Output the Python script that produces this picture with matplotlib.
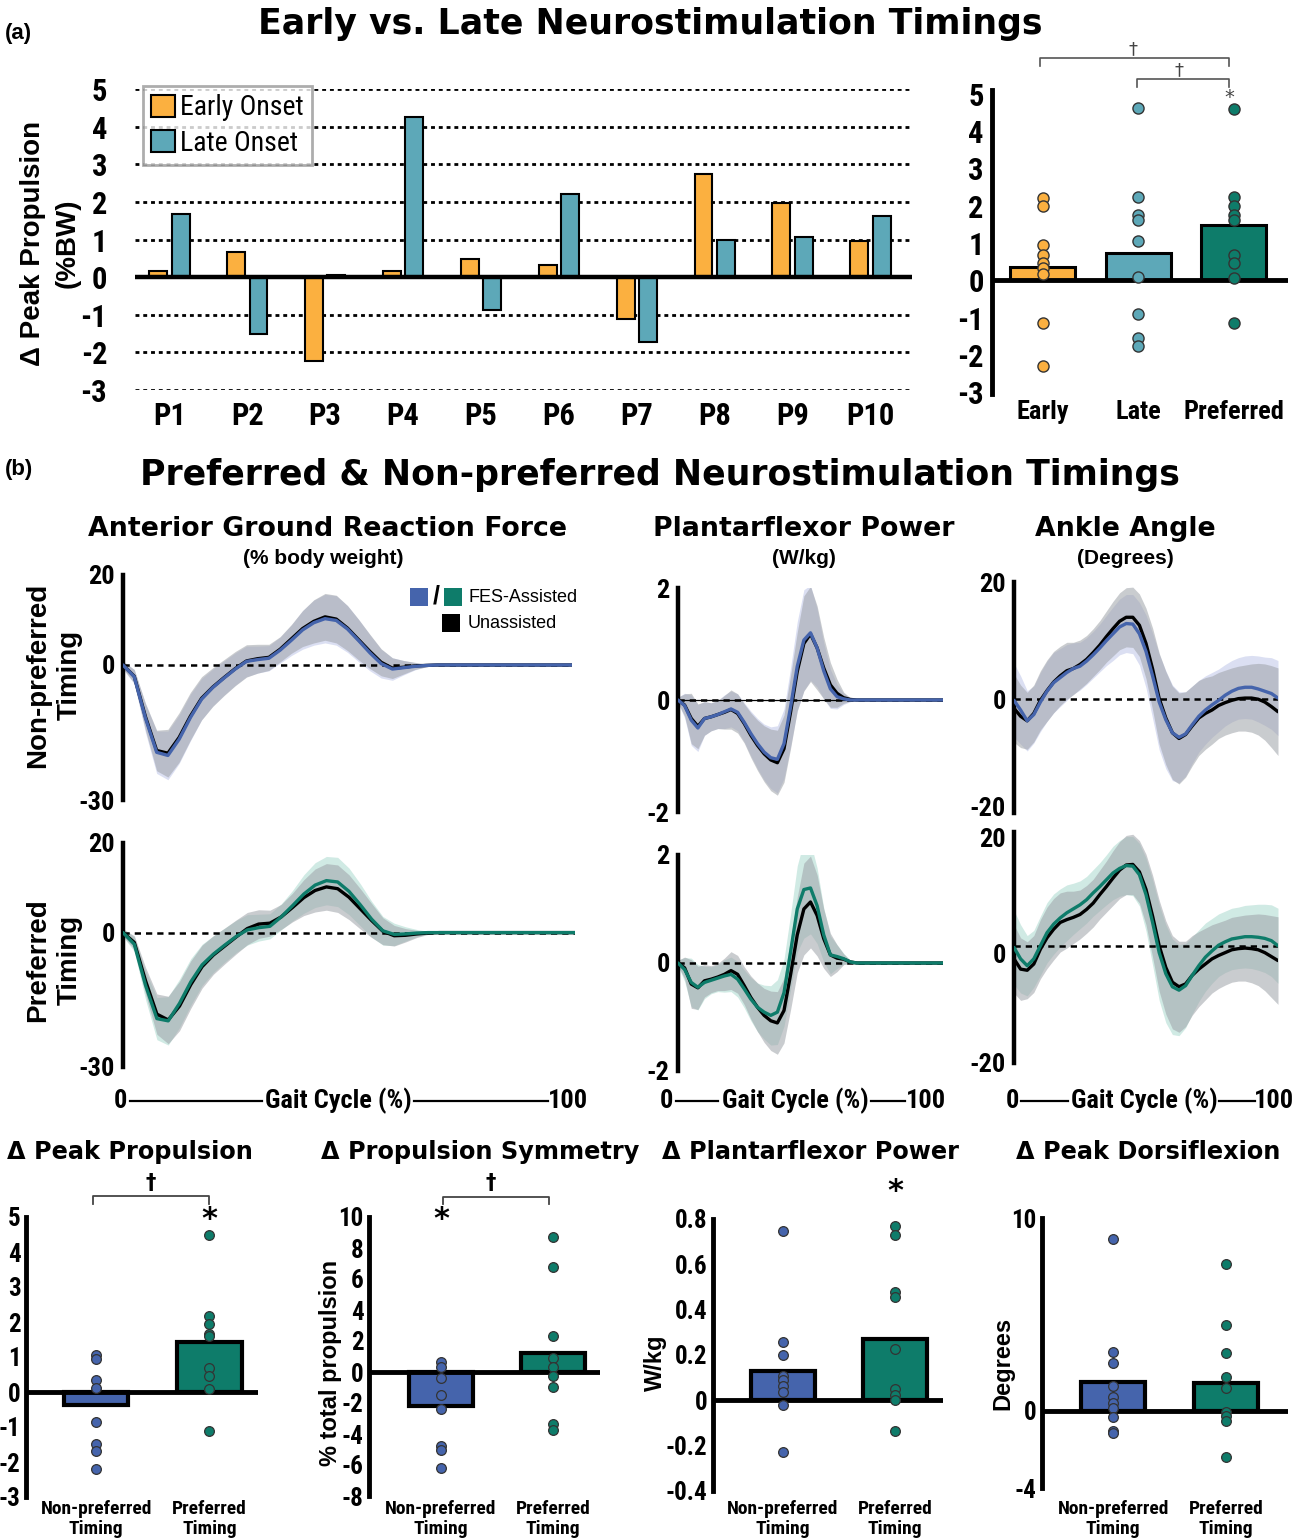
import os
import numpy as np
import matplotlib
matplotlib.use("Agg")
import matplotlib.pyplot as plt
import matplotlib.font_manager as fm
from matplotlib.font_manager import FontProperties
from matplotlib.patches import Rectangle
from matplotlib.lines import Line2D

plt.rcParams["axes.unicode_minus"] = False

W, H = 1303, 1539
SANS = "Liberation Sans"
HEAVY = "DejaVu Sans"


def _find_narrow(bold):
    best = None
    for f in fm.fontManager.ttflist:
        fn = os.path.basename(f.fname).lower()
        if not ("narrow" in fn or "condensed" in fn):
            continue
        if any(x in fn for x in ["italic", "oblique", "light", "thin", "medium", "black", "semi", "extra",
                                 "demi", "ultra"]):
            continue
        if bold != ("bold" in fn):
            continue
        rank = 0 if "liberation" in fn else 1 if "arimo" in fn else 2 if "roboto" in fn else \
            3 if "dejavu" in fn else 4
        if best is None or rank < best[0]:
            best = (rank, f.fname)
    return best[1] if best else None


_NB = _find_narrow(True)
_NR = _find_narrow(False)


def nfont(size, bold=True):
    path = _NB if bold else _NR
    if path:
        fp = FontProperties(fname=path)
        fp.set_size(size)
    else:
        fp = FontProperties(family=SANS, weight="bold" if bold else "normal")
        fp.set_size(size * 0.84)
    return fp


# ------------------------------------------------------------------ data
participants = ["P1", "P2", "P3", "P4", "P5", "P6", "P7", "P8", "P9", "P10"]
early_onset = [0.17, 0.67, -2.23, 0.17, 0.48, 0.33, -1.12, 2.73, 1.97, 0.95]
late_onset = [1.68, -1.51, 0.05, 4.26, -0.87, 2.20, -1.72, 0.99, 1.06, 1.63]

timing_groups = ["Early", "Late", "Preferred"]
timing_means = [0.35, 0.72, 1.47]
early_pts = [2.22, 1.99, 0.95, 0.67, 0.47, 0.32, 0.18, -1.16, -2.31]
late_pts = [4.63, 2.24, 1.74, 1.63, 1.06, 0.08, -0.91, -1.55, -1.76]
preferred_pts = [4.59, 2.24, 1.99, 1.74, 1.63, 0.67, 0.47, 0.06, -1.14]

gait_pct = np.linspace(0, 100, 41)

grf_np_unassisted = [0, -2.5, -11.5, -19.0, -19.6, -16.1, -11.4, -7.4, -4.9, -2.8, -0.8, 0.9, 1.4, 1.7,
                     3.5, 5.8, 8.1, 9.7, 10.7, 10.2, 8.2, 5.6, 3.0, 0.6, -0.7, -0.5, -0.2, -0.1,
                     0, 0, 0, 0, 0, 0, 0, 0, 0, 0, 0, 0, 0]
grf_np_fes = [0, -2.6, -11.8, -19.4, -20.1, -16.5, -11.7, -7.6, -5.0, -2.9, -0.9, 0.8, 1.2, 1.5,
              3.3, 5.5, 7.8, 9.4, 10.3, 9.9, 8.0, 5.4, 2.7, 0.3, -0.9, -0.6, -0.3, -0.1,
              0, 0, 0, 0, 0, 0, 0, 0, 0, 0, 0, 0, 0]
grf_p_unassisted = [0, -2.2, -10.8, -18.2, -19.5, -16.4, -11.6, -7.6, -5.0, -3.0, -1.0, 0.9, 1.9, 2.1,
                    3.5, 5.6, 7.8, 9.4, 10.2, 9.8, 7.9, 5.3, 2.7, 0.3, -0.7, -0.6, -0.3, -0.1,
                    0, 0, 0, 0, 0, 0, 0, 0, 0, 0, 0, 0, 0]
grf_p_fes = [0, -2.6, -11.8, -19.2, -19.7, -15.8, -11.0, -7.2, -4.8, -2.8, -0.9, 0.6, 1.1, 1.4,
             3.5, 6.0, 8.6, 10.6, 11.6, 11.3, 9.2, 6.2, 3.0, 0.4, -0.4, -0.3, -0.1, 0,
             0, 0, 0, 0, 0, 0, 0, 0, 0, 0, 0, 0, 0]
grf_sd_unassisted = [0.8, 1.5, 3.0, 4.5, 5.3, 5.5, 5.3, 4.8, 4.3, 4.0, 3.8, 3.6, 3.2, 2.9,
                     2.8, 3.2, 4.0, 4.8, 5.2, 5.3, 5.0, 4.5, 3.8, 3.0, 2.3, 1.5, 0.8, 0.3,
                     0, 0, 0, 0, 0, 0, 0, 0, 0, 0, 0, 0, 0]
grf_sd_fes = [0.9, 1.6, 3.2, 4.7, 5.4, 5.4, 5.2, 4.6, 4.1, 3.8, 3.6, 3.4, 3.0, 2.8,
              2.9, 3.4, 4.3, 5.0, 5.4, 5.5, 5.2, 4.7, 4.0, 3.2, 2.5, 1.6, 0.8, 0.3,
              0, 0, 0, 0, 0, 0, 0, 0, 0, 0, 0, 0, 0]

pf_np_unassisted = [0, -0.09, -0.33, -0.47, -0.33, -0.30, -0.26, -0.22, -0.17, -0.24, -0.42, -0.63, -0.81,
                    -0.96, -1.07, -1.12, -0.87, -0.21, 0.51, 1.01, 1.18, 0.93, 0.57, 0.27, 0.12, 0.04, 0.01,
                    0, 0, 0, 0, 0, 0, 0, 0, 0, 0, 0, 0, 0, 0]
pf_np_fes = [0, -0.10, -0.36, -0.50, -0.33, -0.30, -0.26, -0.21, -0.16, -0.22, -0.40, -0.60, -0.78,
             -0.93, -1.03, -1.06, -0.78, -0.12, 0.60, 1.07, 1.20, 0.93, 0.52, 0.20, 0.06, 0.02, 0.0,
             0, 0, 0, 0, 0, 0, 0, 0, 0, 0, 0, 0, 0, 0]
pf_p_unassisted = [0, -0.09, -0.39, -0.46, -0.33, -0.30, -0.26, -0.21, -0.14, -0.21, -0.42, -0.64, -0.82,
                   -0.97, -1.07, -1.11, -0.88, -0.21, 0.52, 1.00, 1.13, 0.88, 0.45, 0.15, 0.09, 0.07, 0.02,
                   0, 0, 0, 0, 0, 0, 0, 0, 0, 0, 0, 0, 0, 0]
pf_p_fes = [0, -0.12, -0.36, -0.45, -0.36, -0.32, -0.28, -0.24, -0.21, -0.30, -0.48, -0.67, -0.82,
            -0.91, -0.97, -0.91, -0.55, 0.21, 1.00, 1.36, 1.39, 1.06, 0.52, 0.15, 0.12, 0.08, 0.02,
            0, 0, 0, 0, 0, 0, 0, 0, 0, 0, 0, 0, 0, 0]
pf_sd_unassisted = [0.05, 0.20, 0.45, 0.40, 0.30, 0.25, 0.25, 0.30, 0.35, 0.35, 0.35, 0.40, 0.45,
                    0.50, 0.55, 0.58, 0.60, 0.65, 0.70, 0.85, 0.85, 0.75, 0.55, 0.40, 0.25, 0.10, 0.03,
                    0, 0, 0, 0, 0, 0, 0, 0, 0, 0, 0, 0, 0, 0]
pf_sd_fes = [0.05, 0.22, 0.45, 0.42, 0.30, 0.25, 0.25, 0.30, 0.32, 0.33, 0.35, 0.40, 0.45,
             0.50, 0.55, 0.60, 0.62, 0.70, 0.80, 0.90, 0.85, 0.70, 0.50, 0.35, 0.22, 0.10, 0.03,
             0, 0, 0, 0, 0, 0, 0, 0, 0, 0, 0, 0, 0, 0]

ank_np_unassisted = [-1.6, -3.0, -3.8, -2.5, -0.2, 1.5, 3.0, 4.1, 5.0, 5.4, 6.1, 7.0, 8.2, 9.5, 11.0,
                     12.4, 13.7, 14.4, 14.4, 13.0, 9.8, 5.3, 0.1, -3.3, -5.9, -6.9, -6.2, -4.7, -3.3,
                     -2.5, -1.9, -1.1, -0.6, -0.2, 0.1, 0.2, 0.2, 0.0, -0.5, -1.3, -2.2]
ank_np_fes = [-0.2, -1.9, -3.8, -2.7, -0.5, 1.4, 2.9, 3.8, 4.7, 5.4, 5.8, 6.7, 7.8, 9.0, 10.3,
              11.5, 12.7, 13.3, 13.2, 11.5, 8.4, 4.1, -0.5, -3.6, -5.9, -6.7, -6.1, -4.5, -3.0,
              -1.9, -1.0, -0.2, 0.7, 1.4, 1.9, 2.1, 2.1, 1.8, 1.4, 1.0, 0.2]
ank_p_unassisted = [-2.3, -4.1, -4.3, -3.2, -0.6, 1.4, 2.9, 4.1, 4.6, 5.0, 5.5, 6.4, 7.5, 9.0, 10.4,
                    11.9, 13.3, 14.2, 14.3, 13.0, 9.9, 5.2, 0.0, -3.8, -6.4, -7.2, -6.7, -5.2, -4.1,
                    -3.2, -2.3, -1.7, -1.2, -0.7, -0.5, -0.4, -0.5, -0.7, -1.2, -1.9, -2.6]
ank_p_fes = [-0.3, -2.3, -3.5, -2.3, 0.0, 2.3, 3.8, 4.9, 5.8, 6.5, 7.2, 8.1, 9.3, 10.4, 11.6,
             12.8, 13.6, 14.1, 14.0, 12.5, 9.0, 4.1, -1.2, -4.9, -7.2, -7.8, -7.0, -5.2, -3.5,
             -2.0, -0.9, 0.1, 0.7, 1.2, 1.4, 1.6, 1.6, 1.5, 1.3, 0.9, 0.0]
ank_sd_unassisted = [6.0, 5.5, 5.0, 5.0, 5.2, 5.4, 5.4, 5.2, 5.0, 4.6, 4.3, 4.2, 4.2, 4.3, 4.5,
                     4.8, 5.0, 5.2, 5.3, 5.5, 6.2, 7.2, 8.0, 8.2, 8.2, 8.0, 7.5, 7.0, 6.6,
                     6.3, 6.0, 5.8, 5.7, 5.7, 5.7, 5.8, 6.0, 6.3, 6.7, 7.2, 7.7]
ank_sd_fes = [6.5, 6.0, 5.3, 5.0, 5.2, 5.3, 5.3, 5.1, 4.9, 4.5, 4.2, 4.1, 4.1, 4.2, 4.4,
              4.7, 4.9, 5.1, 5.2, 5.5, 6.4, 7.5, 8.4, 8.6, 8.4, 8.0, 7.4, 6.8, 6.3,
              6.0, 5.7, 5.5, 5.4, 5.4, 5.4, 5.5, 5.6, 5.8, 6.0, 6.3, 6.6]

cond_labels = ["Non-preferred\nTiming", "Preferred\nTiming"]
dpp_means = [-0.37, 1.43]
dpp_np = [1.06, 0.93, 0.33, 0.12, -0.85, -1.48, -1.69, -2.21]
dpp_p = [4.49, 2.17, 1.93, 1.65, 1.60, 0.68, 0.46, 0.08, -1.10]
sym_means = [-2.17, 1.23]
sym_np = [0.62, 0.32, -0.41, -1.46, -2.39, -4.75, -5.05, -6.19]
sym_p = [8.71, 6.77, 2.30, 0.90, 0.30, -0.24, -0.99, -3.33, -3.76]
pfp_means = [0.128, 0.27]
pfp_np = [0.745, 0.259, 0.20, 0.109, 0.088, 0.065, 0.035, -0.02, -0.23]
pfp_p = [0.768, 0.729, 0.478, 0.456, 0.228, 0.05, 0.022, 0.0, -0.137]
dors_means = [1.50, 1.47]
dors_np = [8.91, 3.07, 2.50, 1.29, 0.72, 0.40, 0.17, -0.33, -1.03, -1.17]
dors_p = [7.64, 4.43, 2.98, 1.78, 1.21, -0.05, -0.29, -0.55, -2.41]

# ------------------------------------------------------------------ style
ORANGE = "#FBB040"
TEAL = "#5DA8B8"
GREEN = "#0E7C6A"
BLUE = "#4564AC"
BLUE_BAND = "#C3CAEA"
GREEN_BAND = "#B2DCD2"
GRAY_BAND = "#9EA2A8"

fig = plt.figure(figsize=(W / 100, H / 100), dpi=100)
fig.patch.set_facecolor("white")


def add_ax(l, t, r, b):
    return fig.add_axes([l / W, 1 - b / H, (r - l) / W, (b - t) / H])


def ptext(x, y, s, **kw):
    kw.setdefault("ha", "center")
    kw.setdefault("va", "center")
    return fig.text(x / W, 1 - y / H, s, **kw)


def pline(xs, ys, **kw):
    fig.add_artist(Line2D([x / W for x in xs], [1 - y / H for y in ys], **kw))


def prect(x0, y0, x1, y1, color):
    fig.add_artist(Rectangle((x0 / W, 1 - y1 / H), (x1 - x0) / W, (y1 - y0) / H,
                             transform=fig.transFigure, facecolor=color, edgecolor="none"))


def narrow_ticks(ax, size, which="both"):
    labs = []
    if which in ("both", "y"):
        labs += ax.get_yticklabels()
    if which in ("both", "x"):
        labs += ax.get_xticklabels()
    for lab in labs:
        lab.set_fontproperties(nfont(size))


# ------------------------------------------------------------------ titles
ptext(650, 24, "Early vs. Late Neurostimulation Timings", family=HEAVY, weight="bold", fontsize=25)
ptext(660, 475, "Preferred & Non-preferred Neurostimulation Timings", family=HEAVY, weight="bold",
      fontsize=25)
ptext(5, 33, "(a)", family=SANS, weight="bold", fontsize=16, ha="left")
ptext(5, 470, "(b)", family=SANS, weight="bold", fontsize=16, ha="left")

# ------------------------------------------------------------------ (a) left bar chart
ax = add_ax(135, 89, 912, 390)
xi = np.arange(len(participants))
ax.bar(xi - 0.145, early_onset, width=0.23, color=ORANGE, edgecolor="black", linewidth=1.5, zorder=3,
       label="Early Onset")
ax.bar(xi + 0.145, late_onset, width=0.23, color=TEAL, edgecolor="black", linewidth=1.5, zorder=3,
       label="Late Onset")
for v in range(-3, 6):
    if v == 0:
        ax.axhline(0, color="black", lw=3.2, zorder=4)
    else:
        ax.axhline(v, color="black", lw=2.0, ls=(0, (1.4, 1.4)), zorder=1)
ax.set_xlim(-0.44, 9.53)
ax.set_ylim(-3, 5)
ax.set_yticks(range(-3, 6))
ax.set_xticks(xi)
ax.set_xticklabels(participants)
ax.tick_params(axis="y", length=0, pad=20)
ax.tick_params(axis="x", length=0, pad=8)
narrow_ticks(ax, 22)
for s in ax.spines.values():
    s.set_visible(False)
leg = ax.legend(loc="upper left", bbox_to_anchor=(143 / W, 1 - 86 / H), bbox_transform=fig.transFigure,
                prop=nfont(20, bold=False), frameon=True, fancybox=False, handlelength=0.85,
                handleheight=0.85, handletextpad=0.2, borderpad=0.3, labelspacing=0.3, borderaxespad=0)
leg.get_frame().set_edgecolor("#999999")
leg.get_frame().set_linewidth(2)
ptext(33, 243, "Δ Peak Propulsion", family=SANS, weight="bold", fontsize=20, rotation=90)
ptext(68, 243, "(%BW)", family=SANS, weight="bold", fontsize=20, rotation=90)

# ------------------------------------------------------------------ (a) right summary
ax = add_ax(992, 94, 1288, 392)
gi = np.arange(len(timing_groups))
gcol = [ORANGE, TEAL, GREEN]
ax.bar(gi, timing_means, width=0.68, color=gcol, edgecolor="black", linewidth=2.2, zorder=2)
for g, pts in enumerate([early_pts, late_pts, preferred_pts]):
    ax.plot(np.full(len(pts), gi[g]), pts, "o", ms=8, mfc=gcol[g], mec="#333333", mew=1.0, zorder=4,
            ls="none")
ax.axhline(0, color="black", lw=3.5, zorder=3)
ax.set_xlim(-0.53, 2.57)
ax.set_ylim(-3, 5)
ax.set_yticks(range(-3, 6))
ax.set_xticks(gi)
ax.set_xticklabels(timing_groups)
ax.tick_params(axis="y", length=0, pad=6)
ax.tick_params(axis="x", length=0, pad=6)
narrow_ticks(ax, 22, "y")
narrow_ticks(ax, 19, "x")
for k, s in ax.spines.items():
    s.set_visible(k == "left")
ax.spines["left"].set_linewidth(3.5)
ax.spines["left"].set_bounds(-3.05, 5.1)
bk = dict(color="#555555", lw=1.2)
pline([1040, 1040, 1229, 1229], [66, 58, 58, 66], **bk)
pline([1137, 1137, 1229, 1229], [87, 79, 79, 87], **bk)
ptext(1133, 49, "†", family=HEAVY, fontsize=13, color="#444444")
ptext(1179, 70, "†", family=HEAVY, fontsize=13, color="#444444")
ptext(1229, 97, "*", family=HEAVY, fontsize=14, color="#444444")

# ------------------------------------------------------------------ (b) subtitles
for x, t1, t2 in [(328, "Anterior Ground Reaction Force", "(% body weight)"),
                  (804, "Plantarflexor Power", "(W/kg)"),
                  (1125, "Ankle Angle", "(Degrees)")]:
    ptext(x, 529, t1, family=HEAVY, weight="bold", fontsize=19.3)
    ptext(x - (5 if x == 328 else 0), 559, t2, family=SANS, weight="bold", fontsize=15)

ptext(38, 675, "Non-preferred", family=SANS, weight="bold", fontsize=20, rotation=90)
ptext(70, 675, "Timing", family=SANS, weight="bold", fontsize=20, rotation=90)
ptext(38, 960, "Preferred", family=SANS, weight="bold", fontsize=20, rotation=90)
ptext(70, 960, "Timing", family=SANS, weight="bold", fontsize=20, rotation=90)


def curve_panel(box, ylim, ytick_pos, ytick_lab, unassisted, fes, sd_u, sd_f, fes_color, band_color,
                thin_zero=False):
    ax = add_ax(*box)
    u = np.array(unassisted)
    f = np.array(fes)
    su = np.array(sd_u)
    sf = np.array(sd_f)
    ax.fill_between(gait_pct, f - sf, f + sf, color=band_color, alpha=0.6, lw=0, zorder=1)
    ax.fill_between(gait_pct, u - su, u + su, color=GRAY_BAND, alpha=0.55, lw=0, zorder=2)
    if thin_zero:
        ax.axhline(0, color="black", lw=0.9, zorder=2.5)
    ax.axhline(0, color="black", lw=1.8, ls=(0, (2.5, 2)), zorder=3)
    ax.plot(gait_pct, u, color="black", lw=2.4, zorder=4, solid_capstyle="round", solid_joinstyle="round")
    ax.plot(gait_pct, f, color=fes_color, lw=2.4, zorder=5, solid_capstyle="round", solid_joinstyle="round")
    ax.set_xlim(0, 100)
    ax.set_ylim(*ylim)
    ax.set_yticks(ytick_pos)
    ax.set_yticklabels(ytick_lab)
    ax.set_xticks([])
    ax.tick_params(axis="y", length=0, pad=6)
    narrow_ticks(ax, 19, "y")
    for k, s in ax.spines.items():
        s.set_visible(k == "left")
    ax.spines["left"].set_linewidth(3.2)
    return ax


curve_panel((123, 575, 572, 800), (-30, 20), [-30, 0, 20], ["-30", "0", "20"], grf_np_unassisted,
            grf_np_fes, grf_sd_unassisted, grf_sd_fes, BLUE, BLUE_BAND)
curve_panel((123, 843, 575, 1067), (-30, 20), [-30, 0, 20], ["-30", "0", "20"], grf_p_unassisted,
            grf_p_fes, grf_sd_unassisted, grf_sd_fes, GREEN, GREEN_BAND)
curve_panel((678, 588, 943, 812), (-2, 2), [-2, 0, 2], ["-2", "0", "2"], pf_np_unassisted, pf_np_fes,
            pf_sd_unassisted, pf_sd_fes, BLUE, BLUE_BAND, thin_zero=True)
curve_panel((678, 855, 943, 1071), (-2, 2), [-2, 0, 2], ["-2", "0", "2"], pf_p_unassisted, pf_p_fes,
            pf_sd_unassisted, pf_sd_fes, GREEN, GREEN_BAND)
curve_panel((1014, 582, 1278, 813), (-20, 20), [-18.8, 0, 20.6], ["-20", "0", "20"], ank_np_unassisted,
            ank_np_fes, ank_sd_unassisted, ank_sd_fes, BLUE, BLUE_BAND)
curve_panel((1014, 832, 1278, 1063), (-20, 20), [-20.6, -1.3, 19.1], ["-20", "0", "20"], ank_p_unassisted,
            ank_p_fes, ank_sd_unassisted, ank_sd_fes, GREEN, GREEN_BAND)

# FES legend
prect(410, 588, 428, 606, BLUE)
ptext(436, 597, "/", family=SANS, weight="bold", fontsize=18)
prect(444, 588, 462, 606, GREEN)
prect(442, 614, 460, 632, "black")
ptext(468, 598, "FES-Assisted", family=SANS, fontsize=13, ha="left")
ptext(468, 624, "Unassisted", family=SANS, fontsize=13, ha="left")

# gait cycle axis labels
for x0, l1, tc, l2, x1 in [(120, (130, 262), 338, (414, 548), 568),
                           (666, (676, 718), 795, (871, 905), 926),
                           (1012, (1021, 1068), 1144, (1219, 1255), 1274)]:
    ptext(x0, 1101, "0", fontproperties=nfont(19))
    pline(list(l1), [1101, 1101], color="black", lw=1.6)
    ptext(tc, 1101, "Gait Cycle (%)", fontproperties=nfont(19))
    pline(list(l2), [1101, 1101], color="black", lw=1.6)
    ptext(x1, 1101, "100", fontproperties=nfont(19))

# ------------------------------------------------------------------ bottom summary panels


def summary_panel(box, xlim, ylim, yticks, yticklabels, means, np_pts, p_pts, title, title_x, ylabel=None,
                  ylabel_x=None):
    ax = add_ax(*box)
    ci = np.arange(len(cond_labels))
    cols = [BLUE, GREEN]
    ax.bar(ci, means, width=0.57, color=cols, edgecolor="black", linewidth=3, zorder=2)
    for c, pts in enumerate([np_pts, p_pts]):
        ax.plot(np.full(len(pts), ci[c]), pts, "o", ms=7, mfc=cols[c], mec="#333333", mew=0.9, zorder=4,
                ls="none")
    ax.axhline(0, color="black", lw=3.5, zorder=3)
    ax.set_xlim(*xlim)
    ax.set_ylim(*ylim)
    ax.set_yticks(yticks)
    ax.set_yticklabels(yticklabels)
    ax.set_xticks([])
    ax.tick_params(axis="y", length=0, pad=4)
    narrow_ticks(ax, 18, "y")
    for k, s in ax.spines.items():
        s.set_visible(k == "left")
    ax.spines["left"].set_linewidth(3.5)
    for c in ci:
        xd = ax.transData.transform((c, 0))[0]
        ptext(xd, 1519, cond_labels[c], fontproperties=nfont(14), linespacing=1.1)
    ptext(title_x, 1152, title, family=HEAVY, weight="bold", fontsize=17.3)
    if ylabel:
        ptext(ylabel_x, 1363, ylabel, family=SANS, weight="bold", fontsize=17, rotation=90)
    return ax


summary_panel((26, 1217, 258, 1497), (-0.62, 1.43), (-3, 5), list(range(-3, 6)),
              [str(v) for v in range(-3, 6)], dpp_means, dpp_np, dpp_p, "Δ Peak Propulsion", 130)
summary_panel((369, 1217, 600, 1496), (-0.64, 1.42), (-8, 10), list(range(-8, 11, 2)),
              [str(v) for v in range(-8, 11, 2)], sym_means, sym_np, sym_p, "Δ Propulsion Symmetry", 480,
              "% total propulsion", 330)
summary_panel((713, 1219, 943, 1491), (-0.625, 1.43), (-0.4, 0.8), [-0.4, -0.2, 0, 0.2, 0.4, 0.6, 0.8],
              ["-0.4", "-0.2", "0", "0.2", "0.4", "0.6", "0.8"], pfp_means, pfp_np, pfp_p,
              "Δ Plantarflexor Power", 810, "W/kg", 655)
summary_panel((1042, 1218, 1288, 1488), (-0.63, 1.55), (-4, 10), [-4, 0, 10], ["-4", "0", "10"],
              dors_means, dors_np, dors_p, "Δ Peak Dorsiflexion", 1148, "Degrees", 1003)

# significance marks (bottom)
bk = dict(color="#444444", lw=1.3)
pline([93, 93, 209, 209], [1204, 1196, 1196, 1204], **bk)
ptext(151, 1183, "†", family=HEAVY, fontsize=15, weight="bold")
pline([443, 443, 549, 549], [1204, 1197, 1197, 1204], **bk)
ptext(491, 1183, "†", family=HEAVY, fontsize=15, weight="bold")
ptext(209, 1219, "*", family=HEAVY, fontsize=22, weight="bold")
ptext(441, 1219, "*", family=HEAVY, fontsize=22, weight="bold")
ptext(895, 1192, "*", family=HEAVY, fontsize=22, weight="bold")

fig.savefig("out.png", dpi=100, facecolor="white")
